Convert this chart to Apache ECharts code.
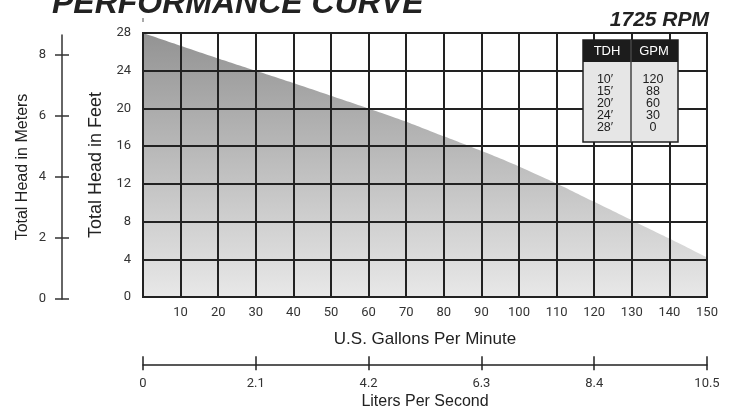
<!DOCTYPE html>
<html>
<head>
<meta charset="utf-8">
<script src="https://cdn.jsdelivr.net/npm/echarts@6/dist/echarts.min.js"></script>
<style>html,body{margin:0;padding:0;background:#fff}#c{width:731px;height:408px}</style>
</head>
<body>
<div id="c"></div>
<script>
// ---- data ----
const gpm = [0, 10, 20, 30, 40, 50, 60, 70, 80, 90, 100, 110, 120, 130, 140, 150];
const headFt = [28, 26.65, 25.3, 24, 22.7, 21.35, 20, 18.6, 17.05, 15.5, 13.85, 12.05, 10.1, 8.15, 6.2, 4.2];
const meterTicks = [0, 2, 4, 6, 8];
const literTicks = [0, 2.1, 4.2, 6.3, 8.4, 10.5];
const tableTDH = ["10′", "15′", "20′", "24′", "28′"];
const tableGPM = ["120", "88", "60", "30", "0"];
const titleText = "PERFORMANCE CURVE";
const rpmText = "1725 RPM";

const chart = echarts.init(document.getElementById('c'), null, {renderer: 'canvas'});
const F = 'Roboto, "Liberation Sans", sans-serif';
const FN = '"Liberation Sans", Arial, sans-serif';
const dark = '#222';
const lbl = {color: '#333', fontSize: 13, fontFamily: F};
const tf = '12.5px "Liberation Sans Narrow", "Liberation Sans", sans-serif';

// table graphics
const tbl = {x: 583, y: 40, w: 95, h: 102, hh: 22, split: 631};
const tableEls = [
  {type: 'rect', shape: {x: tbl.x, y: tbl.y, width: tbl.w, height: tbl.h}, style: {fill: '#e6e6e6', stroke: dark, lineWidth: 1.5}, z: 10},
  {type: 'rect', shape: {x: tbl.x, y: tbl.y, width: tbl.w, height: tbl.hh}, style: {fill: '#1c1c1c'}, z: 11},
  {type: 'line', shape: {x1: tbl.split, y1: tbl.y, x2: tbl.split, y2: tbl.y + tbl.h}, style: {stroke: '#444', lineWidth: 1.5}, z: 12},
  {type: 'text', x: 607, y: tbl.y + tbl.hh / 2, style: {text: 'TDH', fill: '#fff', font: '13px "Liberation Sans Narrow", "Liberation Sans", sans-serif', align: 'center', verticalAlign: 'middle'}, z: 13},
  {type: 'text', x: 654, y: tbl.y + tbl.hh / 2, style: {text: 'GPM', fill: '#fff', font: '13px "Liberation Sans Narrow", "Liberation Sans", sans-serif', align: 'center', verticalAlign: 'middle'}, z: 13}
];
tableTDH.forEach((t, i) => {
  tableEls.push({type: 'text', x: 605, y: 80 + i * 11.8, style: {text: t, fill: '#222', font: tf, align: 'center', verticalAlign: 'middle'}, z: 13});
  tableEls.push({type: 'text', x: 653, y: 80 + i * 11.8, style: {text: tableGPM[i], fill: '#222', font: tf, align: 'center', verticalAlign: 'middle'}, z: 13});
});

const option = {
  animation: false,
  backgroundColor: '#fff',
  grid: [
    {left: 143, right: 24, top: 33, bottom: 111, show: true, borderColor: dark, borderWidth: 2, backgroundColor: 'transparent', z: 5},
    {left: 62, width: 1, top: 35, bottom: 109},
    {left: 143, right: 24, top: 364, height: 1}
  ],
  xAxis: [
    {gridIndex: 0, type: 'value', min: 0, max: 150, interval: 10, z: 3,
      axisLine: {show: false}, axisTick: {show: false},
      splitLine: {show: true, lineStyle: {color: dark, width: 2}},
      axisLabel: Object.assign({margin: 9, formatter: v => v === 0 ? '' : v}, lbl),
      name: 'U.S. Gallons Per Minute', nameLocation: 'middle', nameGap: 34,
      nameTextStyle: {fontSize: 17, color: '#222', fontFamily: FN}},
    {gridIndex: 1, type: 'value', show: false},
    {gridIndex: 2, type: 'value', min: 0, max: 10.5, position: 'bottom',
      axisLine: {show: true, lineStyle: {color: dark, width: 1.5}},
      axisTick: {show: true, length: 6, customValues: literTicks, lineStyle: {color: dark, width: 1.5}},
      axisLabel: Object.assign({margin: 13, customValues: literTicks, formatter: v => v === 0 ? '0' : (+v).toFixed(1)}, lbl),
      splitLine: {show: false},
      name: 'Liters Per Second', nameLocation: 'middle', nameGap: 29,
      nameTextStyle: {fontSize: 16, color: '#222', fontFamily: FN}},
    {gridIndex: 2, type: 'value', min: 0, max: 10.5, position: 'bottom',
      axisLine: {show: false},
      axisTick: {show: true, inside: true, length: 8, customValues: literTicks, lineStyle: {color: dark, width: 1.5}},
      axisLabel: {show: false}, splitLine: {show: false}}
  ],
  yAxis: [
    {gridIndex: 0, type: 'value', min: 0, max: 28, interval: 4, z: 3,
      axisLine: {show: false}, axisTick: {show: false},
      splitLine: {show: true, lineStyle: {color: dark, width: 2}},
      axisLabel: Object.assign({margin: 12}, lbl),
      name: 'Total Head in Feet', nameLocation: 'middle', nameGap: 29, nameRotate: 90,
      nameTextStyle: {fontSize: 18, color: '#222', fontFamily: FN}},
    {gridIndex: 1, type: 'value', min: 0, max: 8.66, position: 'left',
      axisLine: {show: true, lineStyle: {color: '#333', width: 1.5}},
      axisTick: {show: true, length: 7, customValues: meterTicks, lineStyle: {color: '#333', width: 1.5}},
      axisLabel: Object.assign({margin: 16, customValues: meterTicks}, lbl),
      splitLine: {show: false},
      name: 'Total Head in Meters', nameLocation: 'middle', nameGap: 31, nameRotate: 90,
      nameTextStyle: {fontSize: 16, color: '#222', fontFamily: FN}},
    {gridIndex: 1, type: 'value', min: 0, max: 8.66, position: 'left',
      axisLine: {show: false},
      axisTick: {show: true, inside: true, length: 7, customValues: meterTicks, lineStyle: {color: '#333', width: 1.5}},
      axisLabel: {show: false}, splitLine: {show: false}},
    {gridIndex: 2, type: 'value', show: false}
  ],
  series: [{
    type: 'line', xAxisIndex: 0, yAxisIndex: 0, z: 1,
    data: gpm.map((g, i) => [g, headFt[i]]),
    smooth: 0.2, symbol: 'none', lineStyle: {width: 0},
    areaStyle: {opacity: 1, color: new echarts.graphic.LinearGradient(0, 0, 0, 1, [
      {offset: 0, color: '#939393'}, {offset: 1, color: '#e8e8e8'}])}
  }],
  graphic: [
    {type: 'text', x: 52, y: 4, style: {text: titleText, fill: '#222', font: 'italic bold 32px "Liberation Sans", Arial, sans-serif', verticalAlign: 'middle'}},
    {type: 'text', x: 709, y: 20, style: {text: rpmText, fill: '#222', font: 'italic bold 21px "Liberation Sans", Arial, sans-serif', align: 'right', verticalAlign: 'middle'}},
    {type: 'line', shape: {x1: 143, y1: 18, x2: 143, y2: 22}, style: {stroke: '#555', lineWidth: 1}}
  ].concat(tableEls)
};
chart.setOption(option);
</script>
</body>
</html>
